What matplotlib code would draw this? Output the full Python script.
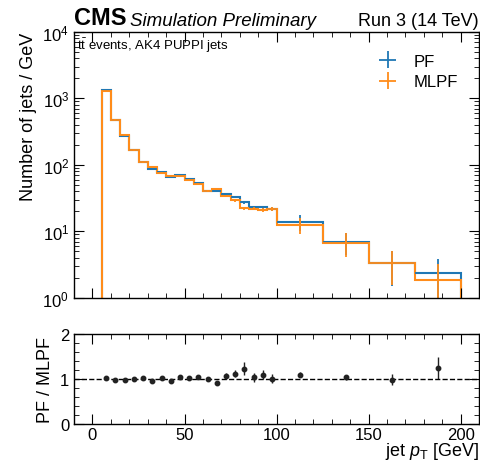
import numpy as np
import matplotlib
matplotlib.use('Agg')
import matplotlib.pyplot as plt

plt.rcParams['font.family'] = ['Liberation Sans', 'DejaVu Sans']
plt.rcParams['mathtext.fontset'] = 'custom'
plt.rcParams['mathtext.rm'] = 'Liberation Sans'
plt.rcParams['mathtext.it'] = 'Liberation Sans:italic'

# bin edges of jet pT [GeV]
edges = [5, 10, 15, 20, 25, 30, 35, 40, 45, 50, 55, 60, 65, 70, 75, 80, 85, 90, 95, 100,
         125, 150, 175, 200]

# number of jets / GeV
pf = [1326, 473, 273, 166, 111, 88, 78, 66, 70, 61, 54, 41.0, 40.0, 36.5, 33.0, 27.2,
      22.9, 22.9, 21.8, 13.75, 6.97, 3.30, 2.33]
mlpf = [1300, 480, 277, 166, 109, 92, 76, 69, 67, 60, 52, 40.6, 44.0, 34.2, 29.5, 22.1,
        22.0, 21.0, 21.6, 12.5, 6.7, 3.35, 1.88]

# errors shown on the upper panel
pf_err = [12, 6, 4, 3, 2.5, 2.2, 2.0, 1.8, 1.9, 1.7, 1.6, 1.4, 1.4, 1.5, 1.5, 1.4,
          1.3, 1.3, 1.3, 3.7, 2.6, 1.8, 1.5]
mlpf_err = [12, 6, 4, 3, 2.5, 2.2, 2.0, 1.8, 1.9, 1.7, 1.6, 1.4, 1.5, 1.4, 1.4, 1.3,
            1.3, 1.3, 1.3, 3.5, 2.6, 1.8, 1.37]

# errors on the ratio
ratio_err = [0.02, 0.02, 0.02, 0.02, 0.025, 0.025, 0.03, 0.03, 0.03, 0.03, 0.04, 0.04,
             0.05, 0.07, 0.08, 0.14, 0.10, 0.10, 0.10, 0.05, 0.06, 0.12, 0.25]

edges = np.array(edges, dtype=float)
pf = np.array(pf)
mlpf = np.array(mlpf)
centers = 0.5 * (edges[1:] + edges[:-1])
half_w = 0.5 * np.diff(edges)
ratio = pf / mlpf

c_pf = '#1f77b4'
c_mlpf = '#ff8c1a'

fig = plt.figure(figsize=(4.81, 4.64), dpi=100)
ax = fig.add_axes([0.154, 0.356, 0.842, 0.573])
rax = fig.add_axes([0.154, 0.084, 0.842, 0.194], sharex=ax)

# histograms
ax.stairs(pf, edges, baseline=0.01, color=c_pf, linewidth=1.5)
h_pf = ax.errorbar(centers, pf, yerr=pf_err, xerr=half_w, fmt='none', ecolor=c_pf,
                   elinewidth=1.3, label='PF')
ax.stairs(mlpf, edges, baseline=0.01, color=c_mlpf, linewidth=1.5)
h_mlpf = ax.errorbar(centers, mlpf, yerr=mlpf_err, xerr=half_w, fmt='none', ecolor=c_mlpf,
                     elinewidth=1.3, label='MLPF')

ax.set_yscale('log')
ax.set_ylim(1, 1e4)
ax.set_xlim(-10, 210)
ax.set_ylabel('Number of jets / GeV', fontsize=13, loc='top')
ax.tick_params(labelbottom=False)

leg = ax.legend(handles=[h_pf, h_mlpf], loc='upper right', frameon=False, fontsize=12,
                bbox_to_anchor=(0.985, 0.975), handlelength=1.5, labelspacing=0.35)

ax.text(0.0, 1.012, 'CMS', transform=ax.transAxes, fontsize=17, fontweight='bold',
        va='bottom', ha='left')
ax.text(0.137, 1.012, 'Simulation Preliminary', transform=ax.transAxes, fontsize=13.5,
        style='italic', va='bottom', ha='left')
ax.text(1.0, 1.012, 'Run 3 (14 TeV)', transform=ax.transAxes, fontsize=13,
        va='bottom', ha='right')
ax.text(0.008, 0.985, r'$\mathrm{t\bar{t}}$ events, AK4 PUPPI jets', transform=ax.transAxes,
        fontsize=9.5, va='top', ha='left')

# ratio panel
rax.errorbar(centers, ratio, yerr=ratio_err, fmt='o', color='#222222', markersize=3.2,
             elinewidth=1.0)
rax.axhline(1, color='black', linestyle='--', linewidth=1.0)
rax.set_ylim(0, 2)
rax.set_yticks([0, 1, 2])
rax.set_ylabel('PF / MLPF', fontsize=13)
rax.set_xlabel(r'jet $p_\mathrm{T}$ [GeV]', fontsize=13, loc='right', labelpad=-1)
rax.set_xticks([0, 50, 100, 150, 200])

for a in (ax, rax):
    a.minorticks_on()
    a.tick_params(which='both', direction='in', top=True, right=True, labelsize=12)
    a.tick_params(which='major', length=7)
    a.tick_params(which='minor', length=3.5)
    for s in a.spines.values():
        s.set_linewidth(1.0)
rax.tick_params(axis='x', pad=2)
rax.xaxis.set_minor_locator(matplotlib.ticker.MultipleLocator(10))
ax.xaxis.set_minor_locator(matplotlib.ticker.MultipleLocator(10))
rax.yaxis.set_minor_locator(matplotlib.ticker.MultipleLocator(0.2))
ax.yaxis.set_minor_locator(matplotlib.ticker.LogLocator(subs=np.arange(2, 10)))

fig.savefig('out.png', dpi=100)
